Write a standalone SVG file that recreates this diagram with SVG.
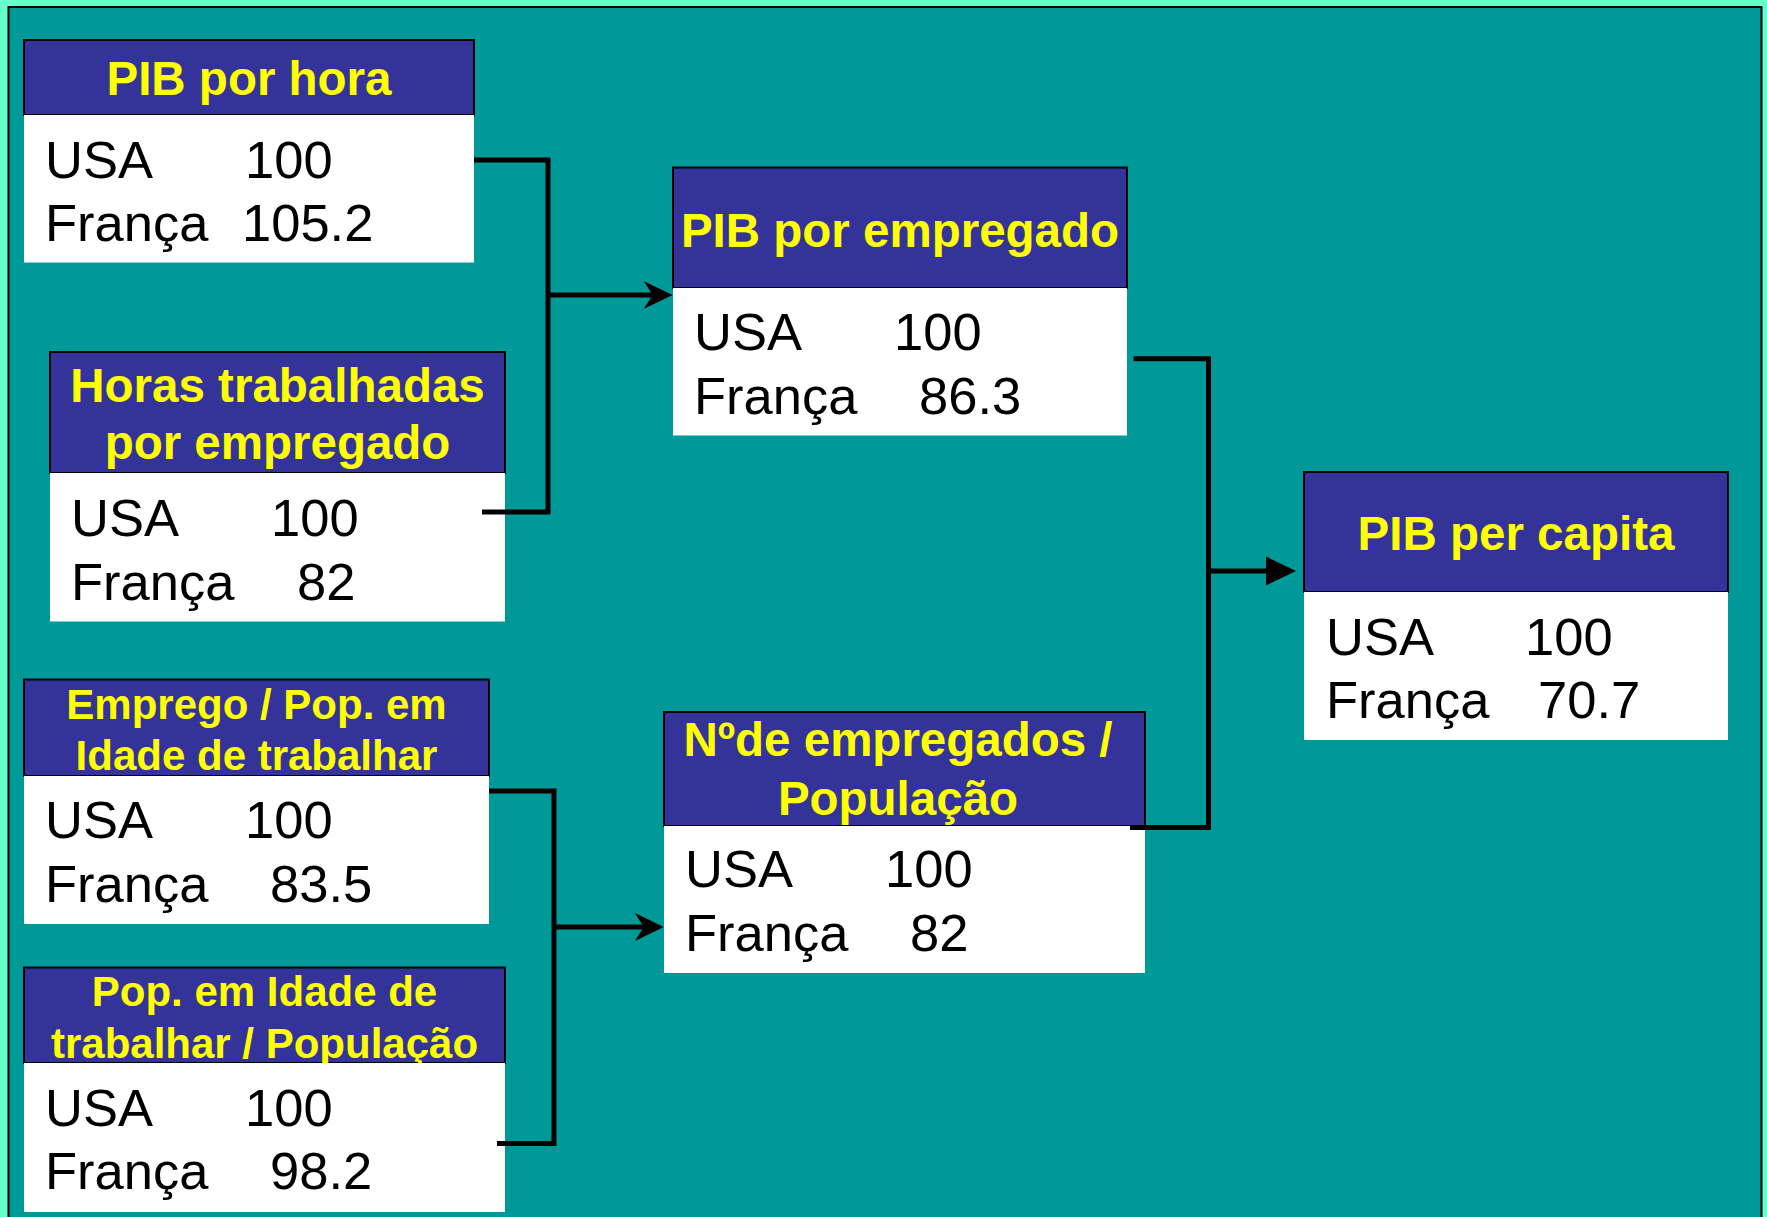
<svg xmlns="http://www.w3.org/2000/svg" width="1767" height="1217" viewBox="0 0 1767 1217">
<style>
.hdr{fill:#333399;stroke:#000;stroke-width:2}
.body{fill:#fff}
.ttl{font-family:"Liberation Sans",Arial,sans-serif;font-weight:bold;font-size:47.5px;fill:#FFFF00;text-anchor:middle}
.ttl2{font-family:"Liberation Sans",Arial,sans-serif;font-weight:bold;font-size:42px;fill:#FFFF00;text-anchor:middle}
.val{font-family:"Liberation Sans",Arial,sans-serif;font-size:52.5px;fill:#000}
.conn{fill:none;stroke:#000;stroke-width:5;stroke-linejoin:miter;stroke-linecap:butt}
</style>
<defs>
<marker id="barb" viewBox="0 -15 30 30" refX="9" refY="0" markerWidth="30" markerHeight="30" markerUnits="userSpaceOnUse" orient="auto">
<path d="M0,-14 L29,0 L0,14 L9,0 Z" fill="#000"/>
</marker>
<marker id="tri" viewBox="0 -15 31 30" refX="2" refY="0" markerWidth="31" markerHeight="30" markerUnits="userSpaceOnUse" orient="auto">
<path d="M0,-14.5 L30,0 L0,14.5 Z" fill="#000"/>
</marker>
</defs>
<rect x="0" y="0" width="1767" height="1217" fill="#66FFCC"/>
<rect x="8.5" y="7" width="1753" height="1230" fill="#009999" stroke="#000" stroke-width="2"/>

<g id="pib-hora">
<rect class="hdr" x="24" y="40" width="450" height="75"/>
<text class="ttl" x="249" y="95">PIB por hora</text>
<rect class="body" x="24" y="115" width="450" height="147.5"/>
<text class="val" x="45" y="177.5">USA</text><text class="val" x="245" y="177.5">100</text>
<text class="val" x="45" y="241">França</text><text class="val" x="242" y="241">105.2</text>
</g>

<g id="horas-trabalhadas">
<rect class="hdr" x="50" y="352" width="455" height="121"/>
<text class="ttl" x="277.5" y="402">Horas trabalhadas</text>
<text class="ttl" x="277.5" y="459">por empregado</text>
<rect class="body" x="50" y="473" width="455" height="148.5"/>
<text class="val" x="71" y="536">USA</text><text class="val" x="271" y="536">100</text>
<text class="val" x="71" y="600">França</text><text class="val" x="297" y="600">82</text>
</g>

<g id="emprego-pop">
<rect class="hdr" x="24" y="679.5" width="465" height="96.5"/>
<text class="ttl2" x="256.5" y="719">Emprego / Pop. em</text>
<text class="ttl2" x="256.5" y="769.5">Idade de trabalhar</text>
<rect class="body" x="24" y="776" width="465" height="148"/>
<text class="val" x="45" y="838">USA</text><text class="val" x="245" y="838">100</text>
<text class="val" x="45" y="902">França</text><text class="val" x="270" y="902">83.5</text>
</g>

<g id="pop-idade">
<rect class="hdr" x="24" y="967.5" width="481" height="95.5"/>
<text class="ttl2" x="264.5" y="1006">Pop. em Idade de</text>
<text class="ttl2" x="264.5" y="1057.5">trabalhar / População</text>
<rect class="body" x="24" y="1063" width="481" height="149"/>
<text class="val" x="45" y="1126">USA</text><text class="val" x="245" y="1126">100</text>
<text class="val" x="45" y="1189">França</text><text class="val" x="270" y="1189">98.2</text>
</g>

<g id="pib-empregado">
<rect class="hdr" x="673" y="167.5" width="454" height="120.5"/>
<text class="ttl" x="900" y="246.5">PIB por empregado</text>
<rect class="body" x="673" y="288" width="454" height="147.5"/>
<text class="val" x="694" y="350">USA</text><text class="val" x="894" y="350">100</text>
<text class="val" x="694" y="414">França</text><text class="val" x="919" y="414">86.3</text>
</g>

<g id="empregados-populacao">
<rect class="hdr" x="664" y="712" width="481" height="114"/>
<text class="ttl" x="898" y="756">Nºde empregados /</text>
<text class="ttl" x="898" y="815">População</text>
<rect class="body" x="664" y="826" width="481" height="147"/>
<text class="val" x="685" y="887">USA</text><text class="val" x="885" y="887">100</text>
<text class="val" x="685" y="951">França</text><text class="val" x="910" y="951">82</text>
</g>

<g id="pib-capita">
<rect class="hdr" x="1304" y="472" width="424" height="120"/>
<text class="ttl" x="1516" y="550">PIB per capita</text>
<rect class="body" x="1304" y="592" width="424" height="148"/>
<text class="val" x="1326" y="655">USA</text><text class="val" x="1525" y="655">100</text>
<text class="val" x="1326" y="718">França</text><text class="val" x="1538" y="718">70.7</text>
</g>

<g id="connectors">
<path class="conn" d="M474,160 H548 V512 H482"/>
<path class="conn" d="M548,295 H652.7" marker-end="url(#barb)"/>
<path class="conn" d="M489,791 H554 V1143.5 H497"/>
<path class="conn" d="M554,927 H643.8" marker-end="url(#barb)"/>
<path class="conn" d="M1133.5,358.7 H1208.5 V827.6 H1130"/>
<path class="conn" d="M1208.5,571 H1268" marker-end="url(#tri)"/>
</g>
</svg>
